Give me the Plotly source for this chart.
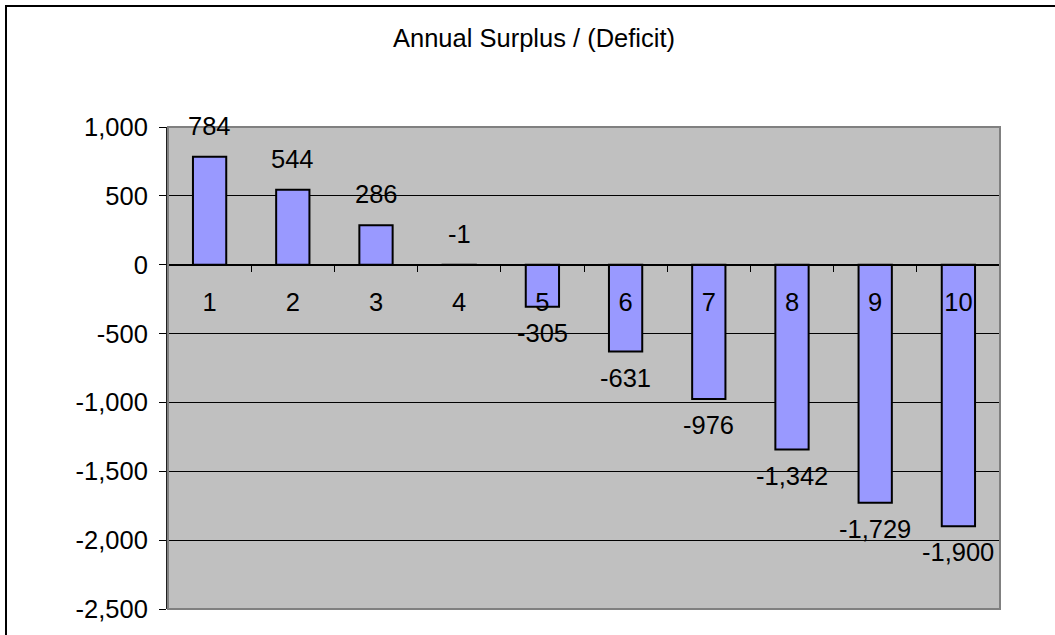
import plotly.graph_objects as go

# Annual surplus / (deficit) by year
years = ["1", "2", "3", "4", "5", "6", "7", "8", "9", "10"]
surplus = [784, 544, 286, -1, -305, -631, -976, -1342, -1729, -1900]

y_min, y_max, y_step = -2500, 1000, 500
y_ticks = list(range(y_min, y_max + 1, y_step))
y_tick_text = [f"{v:,}" for v in y_ticks]

FONT = "Liberation Sans, Arial, sans-serif"
FS = 25.5
W, H = 1055, 635
L, R, T, B = 168, 55, 127, 22

fig = go.Figure()
fig.add_trace(go.Bar(
    x=years,
    y=surplus,
    width=0.4,
    marker=dict(color="#9999FF", line=dict(color="#000000", width=2)),
    hoverinfo="x+y",
    showlegend=False,
))

# value labels: outside the bar end, tiny bars labelled above the axis
annotations = []
for i, v in enumerate(surplus):
    above = v >= 0 or abs(v) < 10
    annotations.append(dict(
        x=i, y=v if v >= 0 else (0 if above else v),
        xref="x", yref="y",
        text=f"{v:,}",
        showarrow=False,
        yanchor="bottom" if above else "top",
        yshift=15 if above else -10,
        font=dict(family=FONT, size=FS, color="#000000"),
    ))

zero_pos = (0 - y_min) / (y_max - y_min)

fig.update_layout(
    width=W, height=H,
    margin=dict(l=L, r=R, t=T, b=B, pad=0),
    paper_bgcolor="#FFFFFF",
    plot_bgcolor="#C0C0C0",
    font=dict(family=FONT, size=FS, color="#000000"),
    title=dict(
        text="Annual Surplus / (Deficit)",
        font=dict(family=FONT, size=FS, color="#000000"),
        xref="paper", x=(534 - L) / (W - L - R), xanchor="center",
        yref="container", y=1 - 38 / H, yanchor="middle",
    ),
    xaxis=dict(
        type="category",
        range=[-0.5, len(years) - 0.5],
        anchor="free",
        position=zero_pos,
        showline=True, linecolor="#000000", linewidth=1,
        ticks="outside", tickson="boundaries", ticklen=6, tickwidth=1,
        tickcolor="#000000",
        ticklabelstandoff=15,
        showgrid=False,
        zeroline=False,
        fixedrange=True,
    ),
    yaxis=dict(
        range=[y_min, y_max],
        tickvals=y_ticks,
        ticktext=y_tick_text,
        showgrid=True, gridcolor="#000000", gridwidth=1,
        zeroline=True, zerolinecolor="#000000", zerolinewidth=1,
        showline=True, linecolor="#202020", linewidth=2,
        ticks="outside", ticklen=7, tickwidth=1, tickcolor="#000000",
        ticklabelstandoff=6,
        fixedrange=True,
    ),
    annotations=annotations,
    shapes=[
        # plot area frame
        dict(type="rect", xref="paper", yref="paper", x0=0, x1=1, y0=0, y1=1,
             line=dict(color="#808080", width=2), layer="above"),
        # chart area border
        dict(type="rect", xref="paper", yref="paper",
             x0=(6 - L) / (W - L - R), x1=(W + 20 - L) / (W - L - R),
             y0=(H - B - (H + 20)) / (H - T - B), y1=(H - B - 5) / (H - T - B),
             line=dict(color="#000000", width=2), layer="above"),
    ],
    bargap=0.6,
)

fig.write_html("out.html")
